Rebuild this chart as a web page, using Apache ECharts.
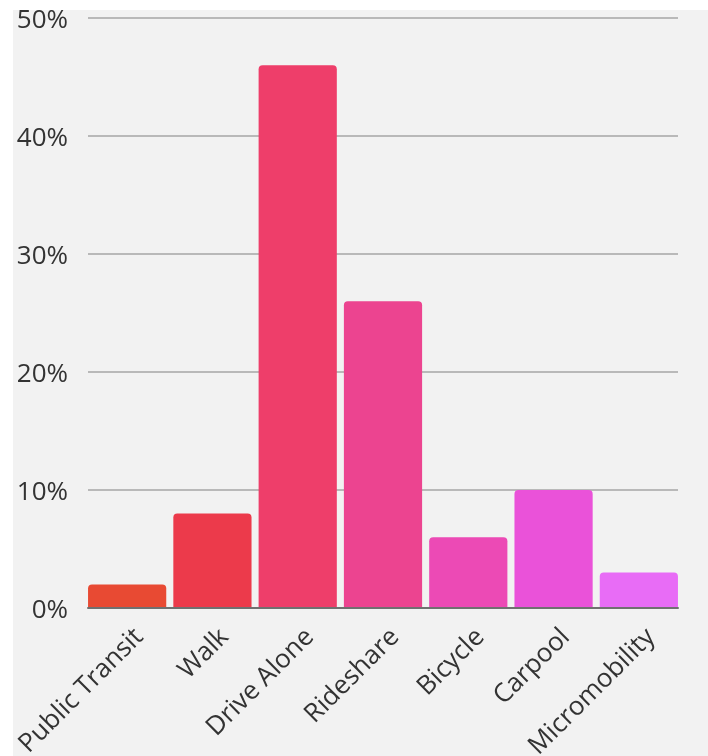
<!DOCTYPE html>
<html>
<head>
<meta charset="utf-8">
<script src="https://cdn.jsdelivr.net/npm/echarts@6/dist/echarts.min.js"></script>
<style>
html,body{margin:0;padding:0;background:#ffffff;width:708px;height:756px;overflow:hidden;}
#chart{position:absolute;left:13px;top:10px;width:695px;height:746px;background:#f2f2f2;}
</style>
</head>
<body>
<div id="chart"></div>
<script>
const categories = ['Public Transit','Walk','Drive Alone','Rideshare','Bicycle','Carpool','Micromobility'];
const values = [2, 8, 46, 26, 6, 10, 3];
const colors = ['#e84a33','#ec3a4b','#ee3e6a','#ec4490','#ec4ab5','#ea52d9','#e86cf6'];
const yTicks = [0, 10, 20, 30, 40, 50];

const yMin = yTicks[0], yMax = yTicks[yTicks.length - 1];
const chart = echarts.init(document.getElementById('chart'), null, {renderer:'canvas'});
chart.setOption({
  backgroundColor: '#f2f2f2',
  animation: false,
  grid: [
    {left: 75, right: 30, top: 8, bottom: 148, containLabel: false, outerBoundsMode: 'none'},
    {left: 71.5, right: 26.5, top: 8, bottom: 148, containLabel: false, outerBoundsMode: 'none'}
  ],
  xAxis: [{
    type: 'category', gridIndex: 0, z: 5,
    data: categories,
    axisLine: {show: true, lineStyle: {color: '#707070', width: 2}},
    axisTick: {show: false},
    axisLabel: {show: false}
  }, {
    type: 'category', gridIndex: 1,
    data: categories,
    axisLine: {show: false},
    axisTick: {show: false},
    axisLabel: {
      rotate: 45, interval: 0, margin: 13,
      align: 'right', verticalAlign: 'top', padding: [4, 0, 0, 0],
      color: '#333333', fontSize: 26, fontFamily: 'Open Sans'
    }
  }],
  yAxis: [{
    type: 'value', gridIndex: 0,
    min: yMin, max: yMax, interval: 10,
    axisLine: {show: false},
    axisTick: {show: false},
    splitLine: {lineStyle: {color: '#b9b9b9', width: 2}},
    axisLabel: {
      formatter: v => v + '%', margin: 20,
      verticalAlign: 'top', lineHeight: 5,
      color: '#333333', fontSize: 26, fontFamily: 'Open Sans'
    }
  }, {
    type: 'value', gridIndex: 1,
    min: yMin, max: yMax, interval: 10,
    show: false,
    splitLine: {show: false}
  }],
  series: [{
    type: 'bar',
    xAxisIndex: 1, yAxisIndex: 1,
    data: values.map((v, i) => ({value: v, itemStyle: {color: colors[i]}})),
    barCategoryGap: '8.3%',
    itemStyle: {borderRadius: [4, 4, 0, 0]}
  }]
});
</script>
</body>
</html>
